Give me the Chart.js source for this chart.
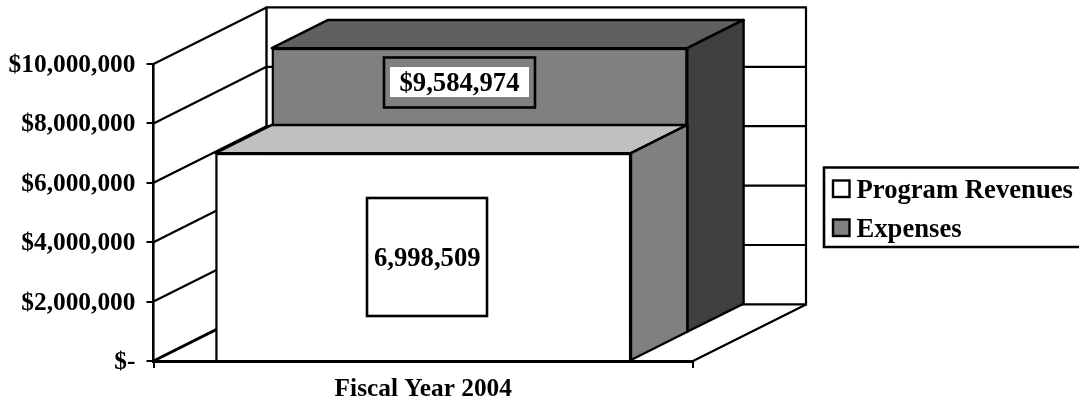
<!DOCTYPE html>
<html>
<head>
<meta charset="utf-8">
<style>html,body{margin:0;padding:0;background:#fff;overflow:hidden}#wrap{position:relative;width:1079px;height:401px}</style>
<script src="https://cdn.jsdelivr.net/npm/chart.js@4"></script>
</head>
<body>
<div id="wrap"><canvas id="c" width="1079" height="401"></canvas></div>
<script>
const categories = ["Fiscal Year 2004"];
const programRevenues = [6998509];
const expenses = [9584974];
const seriesNames = ["Program Revenues", "Expenses"];
const yTicks = [0, 2000000, 4000000, 6000000, 8000000, 10000000];

const SERIF = '"Liberation Serif","Times New Roman",serif';
const WALL = {dx: 113, dy: -56.6};
const BAR_DEPTH = {dx: 56.3, dy: -28.2};
const FACES = [
  {front: '#ffffff', top: '#c0c0c0', side: '#808080'},
  {front: '#808080', top: '#606060', side: '#404040'}
];
const money = v => v === 0 ? '$-' : '$' + v.toLocaleString('en-US');

function poly(ctx, pts, fill, lw) {
  ctx.beginPath();
  pts.forEach((p, i) => i ? ctx.lineTo(p[0], p[1]) : ctx.moveTo(p[0], p[1]));
  ctx.closePath();
  if (fill) { ctx.fillStyle = fill; ctx.fill(); }
  ctx.lineWidth = lw; ctx.strokeStyle = '#000'; ctx.lineJoin = 'round'; ctx.stroke();
}
function seg(ctx, x1, y1, x2, y2, lw) {
  ctx.beginPath(); ctx.moveTo(x1, y1); ctx.lineTo(x2, y2);
  ctx.lineWidth = lw; ctx.strokeStyle = '#000'; ctx.stroke();
}
const plugin3d = {
  id: 'bars3d',
  beforeDatasetsDraw(chart) {
    const {ctx, chartArea: a, scales: {y}} = chart;
    ctx.save();
    ctx.lineCap = 'butt';
    yTicks.forEach(t => {
      const py = y.getPixelForValue(t);
      seg(ctx, a.left, py, a.left + WALL.dx, py + WALL.dy, t === 0 ? 3 : 2.2);
      seg(ctx, a.left + WALL.dx, py + WALL.dy, a.right + WALL.dx, py + WALL.dy, 2.2);
    });
    const b = y.getPixelForValue(0), tp = y.getPixelForValue(10000000);
    seg(ctx, a.left + WALL.dx, tp + WALL.dy - 1, a.left + WALL.dx, b, 2.4);
    seg(ctx, a.right + WALL.dx, tp + WALL.dy - 1, a.right + WALL.dx, b + WALL.dy + 1, 2.2);
    seg(ctx, a.right, b, a.right + WALL.dx, b + WALL.dy, 2.2);
    ctx.restore();
  },
  beforeDatasetDraw(chart, args) {
    const {ctx} = chart, el = args.meta.data[0], f = FACES[args.index];
    const l = el.x - el.width / 2, r = el.x + el.width / 2, t = el.y, bt = el.base;
    const sx = args.index * BAR_DEPTH.dx, sy = args.index * BAR_DEPTH.dy;
    const dx = BAR_DEPTH.dx, dy = BAR_DEPTH.dy;
    ctx.save();
    ctx.translate(sx, sy);
    poly(ctx, [[l, t], [l + dx, t + dy], [r + dx, t + dy], [r, t]], f.top, 2.4);
    poly(ctx, [[r, t], [r + dx, t + dy], [r + dx, bt + dy], [r, bt]], f.side, 2.4);
    // left in place: the front face is drawn by Chart.js under this same shift
  },
  afterDatasetDraw(chart) {
    chart.ctx.restore();
  },
  afterDraw(chart) {
    const {ctx} = chart;
    const m0 = chart.getDatasetMeta(0).data[0];
    ctx.save();
    ctx.textAlign = 'center'; ctx.textBaseline = 'middle';
    ctx.font = 'bold 26.67px ' + SERIF;
    // Program Revenues label
    ctx.fillStyle = '#fff'; ctx.strokeStyle = '#000'; ctx.lineWidth = 2.6;
    ctx.fillRect(367, 198, 120, 118); ctx.strokeRect(367, 198, 120, 118);
    ctx.fillStyle = '#000';
    ctx.fillText(programRevenues[0].toLocaleString('en-US'), m0.x + 4, (m0.y + m0.base) / 2 + 2.5);
    // Expenses label
    ctx.strokeRect(384, 57.5, 151, 50);
    ctx.fillStyle = '#fff'; ctx.fillRect(390, 67, 139, 30);
    ctx.fillStyle = '#000';
    ctx.fillText(money(expenses[0]), 459.5, 84.5);
    // Legend
    ctx.lineWidth = 2.6;
    ctx.beginPath(); ctx.moveTo(1081, 167.5); ctx.lineTo(824, 167.5); ctx.lineTo(824, 247); ctx.lineTo(1081, 247); ctx.stroke();
    ctx.textAlign = 'left';
    ctx.font = 'bold 26.67px ' + SERIF;
    seriesNames.forEach((name, i) => {
      const yy = 180.5 + i * 39;
      ctx.fillStyle = FACES[i].front; ctx.lineWidth = 2.4;
      ctx.fillRect(833, yy, 16.5, 16.5); ctx.strokeRect(833, yy, 16.5, 16.5);
      ctx.fillStyle = '#000';
      ctx.fillText(name, 856.5, yy + 11);
    });
    ctx.restore();
  }
};

new Chart(document.getElementById('c'), {
  type: 'bar',
  data: {
    labels: categories,
    datasets: [
      {label: seriesNames[0], data: programRevenues, order: 1, backgroundColor: FACES[0].front, borderColor: '#000', borderWidth: 2.4, borderSkipped: 'bottom', barThickness: 415.5, grouped: false, clip: false},
      {label: seriesNames[1], data: expenses, order: 2, backgroundColor: FACES[1].front, borderColor: '#000', borderWidth: 2.4, borderSkipped: 'bottom', barThickness: 415.5, grouped: false, clip: false}
    ]
  },
  options: {
    responsive: false,
    animation: false,
    devicePixelRatio: 1,
    layout: {padding: {left: 0, top: 64, right: 386, bottom: 0}},
    plugins: {legend: {display: false}, tooltip: {enabled: false}},
    events: [],
    scales: {
      x: {
        type: 'category',
        offset: true,
        z: 1,
        grid: {drawOnChartArea: false, drawTicks: true, tickLength: 7, tickColor: '#000', lineWidth: 2, offset: true},
        border: {color: '#000', width: 3},
        ticks: {color: '#000', font: {family: SERIF, size: 25.33, weight: 'bold'}, padding: 6, maxRotation: 0},
        afterFit(s) { s.height = 40; }
      },
      y: {
        min: 0, max: 10000000,
        z: 1,
        afterBuildTicks(s) { s.ticks = yTicks.map(v => ({value: v})); },
        grid: {drawOnChartArea: false, drawTicks: true, tickLength: 7, tickColor: '#000', lineWidth: 2},
        border: {color: '#000', width: 2.6},
        ticks: {color: '#000', font: {family: SERIF, size: 25.4, weight: 'bold'}, padding: 11, labelOffset: 1.5, callback: money},
        afterFit(s) { s.width = 153.5; }
      }
    }
  },
  plugins: [plugin3d]
});
</script>
</body>
</html>
